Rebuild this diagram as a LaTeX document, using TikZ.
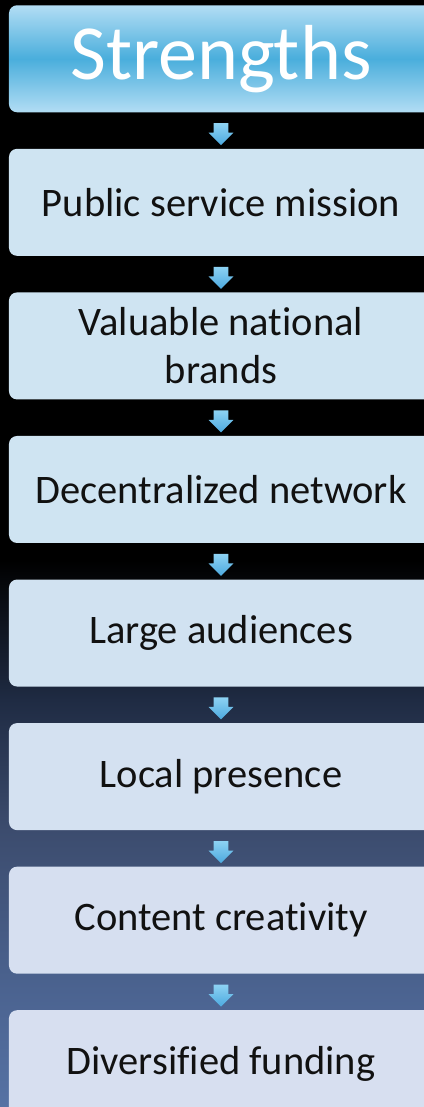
\documentclass[tikz,border=0pt]{standalone}
\usepackage{fontspec}
\setmainfont{Carlito}[Ligatures=NoCommon]
\usetikzlibrary{positioning,calc,shapes.arrows}
\definecolor{headmid}{HTML}{4AAEDC}
\definecolor{headedge}{HTML}{B2DDF4}
\definecolor{boxtop}{HTML}{CFE4F2}
\definecolor{boxlow}{HTML}{D7DFF0}
\definecolor{arrtop}{HTML}{8DD2F3}
\definecolor{arrbot}{HTML}{4CA9DF}
\definecolor{textdark}{HTML}{111111}
\definecolor{bgA}{HTML}{5672A4}
\definecolor{bgB}{HTML}{4B6390}
\definecolor{bgC}{HTML}{3C4C6E}
\definecolor{bgD}{HTML}{1F2B43}
\pgfdeclareverticalshading{bgfade}{100bp}{color(0bp)=(bgA); color(25bp)=(bgA);
  color(35.7bp)=(bgB); color(50.3bp)=(bgC); color(62.2bp)=(bgD);
  color(75bp)=(black); color(100bp)=(black)}
\tikzset{
  header/.style   = {rounded corners=2mm, top color=headedge, bottom color=headedge,
                     middle color=headmid, minimum width=10.6cm, minimum height=2.675cm,
                     inner sep=0pt, text=white, font=\fontsize{55.5}{60}\selectfont},
  stage/.style    = {rounded corners=2mm, fill=boxlow!#1!boxtop, minimum width=10.6cm,
                     minimum height=2.675cm, inner sep=0pt, align=center, text=textdark,
                     font=\fontsize{28.8}{34}\selectfont},
  stage/.default  = 0,
  flow/.style     = {single arrow, shape border rotate=270, single arrow head extend=1.3mm,
                     single arrow head indent=0pt, minimum height=5.5mm, inner sep=1.75mm,
                     top color=arrtop, bottom color=arrbot},
  node distance   = 9mm,
}
\begin{document}
\begin{tikzpicture}
  \useasboundingbox (0,0) rectangle (10.6,-27.675);
  \fill[black] (0,0) rectangle (10.6,-14);
  \shade[shading=bgfade] (0,-14) rectangle (10.6,-27.675);
  \node[header, anchor=north] (head) at (5.525,-0.125) {Strengths};
  \node[stage, below=of head] (s1) {Public service mission};
  \node[stage, below=of s1] (s2) {Valuable national\\brands};
  \node[stage, below=of s2] (s3) {Decentralized network};
  \node[stage=30, below=of s3] (s4) {Large audiences};
  \node[stage=60, below=of s4] (s5) {Local presence};
  \node[stage=90, below=of s5] (s6) {Content creativity};
  \node[stage=100, below=of s6] (s7) {Diversified funding};
  \node[flow] (a1) at ($(head.south)!0.5!(s1.north)$) {};
  \node[flow] (a2) at ($(s1.south)!0.5!(s2.north)$) {};
  \node[flow] (a3) at ($(s2.south)!0.5!(s3.north)$) {};
  \node[flow] (a4) at ($(s3.south)!0.5!(s4.north)$) {};
  \node[flow] (a5) at ($(s4.south)!0.5!(s5.north)$) {};
  \node[flow] (a6) at ($(s5.south)!0.5!(s6.north)$) {};
  \node[flow] (a7) at ($(s6.south)!0.5!(s7.north)$) {};
\end{tikzpicture}
\end{document}
